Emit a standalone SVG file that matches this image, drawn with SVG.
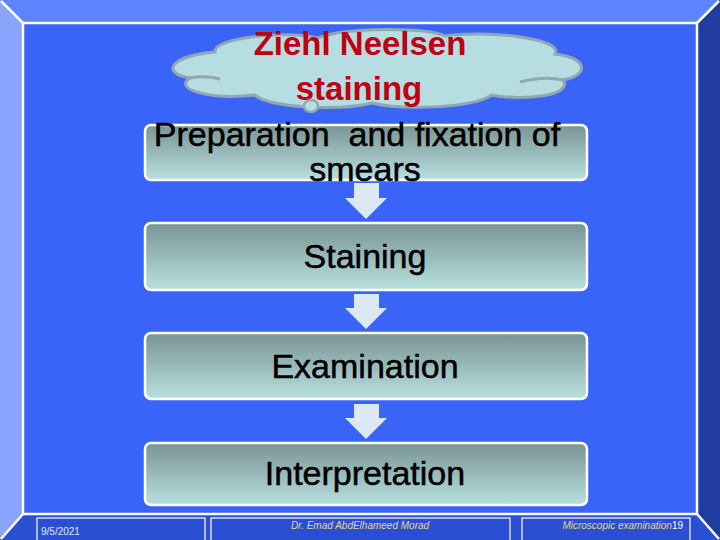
<svg xmlns="http://www.w3.org/2000/svg" width="720" height="540" viewBox="0 0 720 540">
<defs>
<linearGradient id="boxg" x1="0" y1="0" x2="0" y2="1">
<stop offset="0" stop-color="#7a9494"/>
<stop offset="1" stop-color="#b8e0e0"/>
</linearGradient>
<style>
.frame-line{stroke:#ffffff;stroke-width:2.5;fill:none}
.box{fill:url(#boxg);stroke:#ffffff;stroke-width:2.5}
.arrow{fill:#dce8f2}
.label{font-family:"Liberation Sans",Arial,sans-serif;font-size:34px;fill:#000000;stroke:#000000;stroke-width:0.5;text-anchor:middle}
.title{font-family:"Liberation Sans",Arial,sans-serif;font-weight:bold;font-size:33px;fill:#bf0010;text-anchor:middle}
.foot{font-family:"Liberation Sans",Arial,sans-serif;font-size:10px}
.footbox{fill:none;stroke:#ffffff;stroke-width:1.2}
</style>
</defs>
<g id="background">
<rect x="0" y="0" width="720" height="540" fill="#3a63f7"/>
<polygon points="0,0 720,0 697,23 23,23" fill="#5c84ff"/>
<polygon points="0,0 23,23 23,514 0,540" fill="#8ba5ff"/>
<polygon points="720,0 720,540 697,514 697,23" fill="#1e3d9e"/>
<polygon points="0,540 23,514 697,514 720,540" fill="#2b4fd2"/>
<rect x="23" y="23" width="674" height="491" class="frame-line"/>
<line x1="1" y1="1" x2="23" y2="23" class="frame-line"/>
<line x1="719" y1="1" x2="697" y2="23" class="frame-line"/>
<line x1="1" y1="539" x2="23" y2="514" class="frame-line"/>
<line x1="719" y1="539" x2="697" y2="514" class="frame-line"/>
</g>
<g id="footer">
<rect x="37" y="518" width="168" height="24" class="footbox"/>
<rect x="211" y="518" width="299" height="24" class="footbox"/>
<rect x="522" y="518" width="168" height="24" class="footbox"/>
<text x="41" y="535" class="foot" fill="#e4e6f4">9/5/2021</text>
<text x="360" y="529" class="foot" fill="#e6d68e" font-style="italic" text-anchor="middle">Dr. Emad AbdElhameed Morad</text>
<text x="683" y="529" class="foot" text-anchor="end"><tspan fill="#e6d68e" font-style="italic">Microscopic examination</tspan><tspan fill="#ffffff">19</tspan></text>
</g>
<g id="title-cloud">
<path d="M 215,52 C 212,38 285,30 318,38 C 345,27 425,27 445,36 C 485,30 565,38 555,54 C 590,58 588,76 563,80 C 575,96 520,101 492,95 C 470,109 400,110 372,103 C 340,111 270,108 255,95 C 212,100 172,90 190,78 C 160,73 170,56 215,52 Z" fill="#b5dde2" stroke="#8fa8b2" stroke-width="3"/>
<path d="M 190,78 C 200,76 212,77 220,79" fill="none" stroke="#8fa8b2" stroke-width="3"/>
<path d="M 520,82 C 535,78 550,77 563,80" fill="none" stroke="#8fa8b2" stroke-width="3"/>
<ellipse cx="311" cy="106" rx="7" ry="6" fill="#b5dde2" stroke="#8fa8b2" stroke-width="2.5"/>
<text x="360" y="55" class="title">Ziehl Neelsen</text>
<text x="359" y="100" class="title">staining</text>
</g>
<g id="node-1">
<rect x="145" y="125" width="442" height="55" rx="6" class="box"/>
<text x="357" y="146" class="label" xml:space="preserve">Preparation  and fixation of</text>
<text x="365" y="181" class="label">smears</text>
</g>
<g id="node-2">
<rect x="145" y="223" width="442" height="67" rx="6" class="box"/>
<text x="365" y="268" class="label">Staining</text>
</g>
<g id="node-3">
<rect x="145" y="333" width="442" height="66" rx="6" class="box"/>
<text x="365" y="378" class="label">Examination</text>
</g>
<g id="node-4">
<rect x="145" y="443" width="442" height="62" rx="6" class="box"/>
<text x="365" y="485" class="label">Interpretation</text>
</g>
<g id="connectors">
<polygon points="354,183 379,183 379,198 387,198 366,219 345,198 354,198" class="arrow"/>
<polygon points="354,294 379,294 379,308 387,308 366,329 345,308 354,308" class="arrow"/>
<polygon points="354,404 379,404 379,418 387,418 366,439 345,418 354,418" class="arrow"/>
</g>
</svg>
